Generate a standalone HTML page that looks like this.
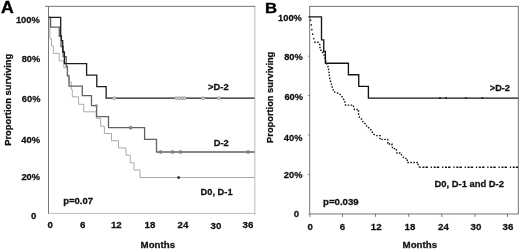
<!DOCTYPE html>
<html>
<head>
<meta charset="utf-8">
<title>Survival curves</title>
<style>
html,body{margin:0;padding:0;background:#fff;}
body{width:520px;height:249px;overflow:hidden;}
svg{display:block;will-change:transform;}
text{font-family:"Liberation Sans",sans-serif;font-weight:bold;fill:#111;}
.t{font-size:9.7px;stroke:#111;stroke-width:0.27px;}
.pl{font-size:15.4px;fill:#000;}
.ax{stroke:#777;stroke-width:1;fill:none;}
.axl{stroke:#bdbdbd;stroke-width:1;fill:none;}
</style>
</head>
<body>
<svg width="520" height="249" viewBox="0 0 520 249">
<rect x="0" y="0" width="520" height="249" fill="#ffffff"/>

<!-- ================= PANEL A ================= -->
<g id="panelA">
  <!-- frame -->
  <path class="axl" d="M254.85 6.2 V215.2" stroke-width="1.2"/>
  <path class="axl" d="M48.5 213.4 H255.2"/>
  <path class="ax" d="M45 6.35 H255.3"/>
  <path class="ax" d="M48.5 6.1 V213.6"/>

  <!-- D0, D-1 light gray -->
  <path fill="none" stroke="#aaaaaa" stroke-width="1" d="M48.6 17.3 H49.9 V38.8 H51.5 V46 H53.3 V53.4 H59.2 V60.8 H63.8 V67.8 H67.4 V75 H69 V82 H71.3 V89.6 H72.3 V96.8 H78.6 V104.3 H83.75 V111.8 H96.25 V118.4 H100.6 V126.3 H104.4 V133.5 H111.5 V140.7 H118.5 V147.9 H126 V155.3 H130.25 V162.8 H134 V170 H140 V177.5 H254.5"/>
  <!-- D-2 dark gray -->
  <path fill="none" stroke="#626262" stroke-width="1.3" d="M48.6 17.3 H50.6 V27.2 H59.3 V36.3 H61 V46.5 H63.2 V56.6 H66.2 V66.3 H67.4 V75.9 H69 V86.15 H82.3 V95.7 H91.5 V105.55 H96.6 V116.7 H108.5 V127.7 H144.6 V139.3 H156.5 V152 H254.5"/>
  <!-- >D-2 black -->
  <path fill="none" stroke="#1c1c1c" stroke-width="1.3" d="M48.6 17.3 H60.7 V36 H61.4 V40.6 H62.7 V52 H64.4 V63.55 H86.6 V75.1 H96.8 V86.6 H106.15 V98.2 H254.5"/>

  <!-- markers -->
  <g fill="#d0d0d0" stroke="#8c8c8c" stroke-width="0.7">
    <circle cx="114.4" cy="98.2" r="1.5"/>
    <circle cx="176.3" cy="98.2" r="1.5"/>
    <circle cx="179.2" cy="98.2" r="1.5"/>
    <circle cx="182" cy="98.2" r="1.5"/>
    <circle cx="184.6" cy="98.2" r="1.5"/>
    <circle cx="203.1" cy="98.2" r="1.5"/>
    <circle cx="218.75" cy="98.2" r="1.5"/>
  </g>
  <g fill="#858585" stroke="#7a7a7a" stroke-width="0.3">
    <rect x="95.1" y="104.3" width="2.5" height="2.5" stroke="none" fill="#8a8a8a"/>
    <circle cx="130.6" cy="127.7" r="1.75"/>
    <circle cx="160.6" cy="152" r="1.75"/>
    <circle cx="172.5" cy="152" r="1.75"/>
    <circle cx="180.5" cy="152" r="1.75"/>
    <circle cx="248" cy="152" r="1.75"/>
  </g>
  <circle cx="178.6" cy="177.5" r="1.5" fill="#3c3c3c"/>

  <!-- text -->
  <text class="pl" transform="translate(0.9 13.2) scale(1.08 1)" style="font-size:16.4px" stroke="#000" stroke-width="0.35">A</text>
  <text class="t" x="15.9" y="23.1" textLength="24" lengthAdjust="spacingAndGlyphs">100%</text>
  <text class="t" x="21.7" y="61.8" textLength="18.5" lengthAdjust="spacingAndGlyphs">80%</text>
  <text class="t" x="21.8" y="101.5" textLength="18.6" lengthAdjust="spacingAndGlyphs">60%</text>
  <text class="t" x="21.2" y="142.8" textLength="18.8" lengthAdjust="spacingAndGlyphs">40%</text>
  <text class="t" x="21.4" y="179.8" textLength="18.6" lengthAdjust="spacingAndGlyphs">20%</text>
  <text class="t" x="31.1" y="218.9">0</text>

  <text class="t" x="50.3" y="228.1" text-anchor="middle">0</text>
  <text class="t" x="82.7" y="228.1" text-anchor="middle">6</text>
  <text class="t" x="116.3" y="228.1" text-anchor="middle">12</text>
  <text class="t" x="149.9" y="228.3" text-anchor="middle">18</text>
  <text class="t" x="183" y="228.1" text-anchor="middle">24</text>
  <text class="t" x="215.9" y="228.6" text-anchor="middle">30</text>
  <text class="t" x="247.9" y="227.8" text-anchor="middle">36</text>
  <text class="t" x="140.6" y="247.7" textLength="34.5" lengthAdjust="spacingAndGlyphs">Months</text>
  <text class="t" x="63.3" y="203.7" textLength="29.7" lengthAdjust="spacingAndGlyphs">p=0.07</text>
  <text class="t" x="208.1" y="89.8" textLength="20.6" lengthAdjust="spacingAndGlyphs">&gt;D-2</text>
  <text class="t" x="213.8" y="145.9" textLength="15" lengthAdjust="spacingAndGlyphs">D-2</text>
  <text class="t" x="200.5" y="194.8" textLength="32.1" lengthAdjust="spacingAndGlyphs">D0, D-1</text>
  <text class="t" transform="translate(10.8 145.8) rotate(-90)" textLength="92" lengthAdjust="spacingAndGlyphs">Proportion surviving</text>
</g>

<!-- ================= PANEL B ================= -->
<g id="panelB">
  <path class="ax" d="M309 6.4 H518.7"/>
  <path class="ax" d="M309.7 6.2 V214"/>
  <path class="ax" d="M308.6 213.95 H518.7"/>
  <path class="ax" d="M518.35 6.2 V214.2"/>
  <!-- ticks -->
  <path class="ax" d="M308.1 16.9 H309.7 M308.1 56.2 H309.7 M308.1 95.5 H309.7 M308.1 135 H309.7 M308.1 174.5 H309.7"/>
  <path class="ax" d="M310 213.7 V216.9 M342.5 213.7 V216.9 M375.5 213.7 V216.9 M408.75 213.7 V216.9 M441.75 213.7 V216.9 M475 213.7 V216.9 M507.5 213.7 V216.9"/>

  <!-- dashed curve -->
  <path fill="none" stroke="#111" stroke-width="1.4" stroke-dasharray="1.5 3.2" stroke-dashoffset="-2" d="M310.2 17.5 L310.6 20.5 L311.25 25.5 L311.9 30 L312.75 35 L313.75 38.1 L314.2 42.2"/>
  <path fill="none" stroke="#111" stroke-width="1.4" stroke-dasharray="1.5 1.5" d="M314.2 42.2 L318 42.2 L320 45 L320 49 L321.9 51.5 L323.75 54 L325 58.5 L326.5 63.5 L328 66.5 L328.5 68.5 L329 72.5 L329.5 76.5 L330.3 80.5 L331.25 83.5 L332.5 87.9 L333.75 91.75 L336.25 92.75 L339.4 93.6 L341.9 96.5 L343.75 99.25 L345 102.4 L345.6 105.1 L353.1 105.1 L354.4 109.5 L358.5 109.5 L358.5 113.6 L359.4 117.4 L361.9 119.5 L363.1 122.4 L366 124.25 L366.9 126.9 L370 128.5 L371.9 131.25 L373.1 134 L376.25 135.6 L380 135.6 L380 139.4 L387.75 139.4 L387.75 144 L391.9 144 L392.6 148.6 L396.25 148.6 L396.9 153 L400.6 153 L401.9 155.6 L404 158.1 L407.25 158.75 L407.25 162.5 L418.1 162.5 L418.1 164.75 L419.4 167.3"/>
  <path fill="none" stroke="#111" stroke-width="1.4" stroke-dasharray="1.3 1.7 2 1.1 2.4 2.8" d="M419.4 167.3 H518"/>
  <!-- solid black -->
  <path fill="none" stroke="#141414" stroke-width="1.35" d="M308.7 16.9 H321.5 V39.8 H323.75 V51.5 H325.4 V63.2 H348.4 V74.7 H358.75 V86.3 H368.4 V98.1 H518"/>

  <g fill="#222"><circle cx="440" cy="98.1" r="1.05"/><circle cx="446" cy="98.1" r="1.05"/><circle cx="466" cy="98.1" r="1"/><circle cx="482.5" cy="98.1" r="1"/></g>
  <text class="pl" transform="translate(264.9 13.2) scale(1.08 1)" style="font-size:15.5px" stroke="#000" stroke-width="0.35">B</text>
  <text class="t" x="278.1" y="20.6" textLength="23.8" lengthAdjust="spacingAndGlyphs">100%</text>
  <text class="t" x="284.2" y="59.8" textLength="18.5" lengthAdjust="spacingAndGlyphs">80%</text>
  <text class="t" x="284.4" y="100" textLength="18.5" lengthAdjust="spacingAndGlyphs">60%</text>
  <text class="t" x="283.8" y="140.6" textLength="18.6" lengthAdjust="spacingAndGlyphs">40%</text>
  <text class="t" x="283.8" y="177.5" textLength="18.6" lengthAdjust="spacingAndGlyphs">20%</text>
  <text class="t" x="293.8" y="217.3">0</text>

  <text class="t" x="310.1" y="230" text-anchor="middle">0</text>
  <text class="t" x="342.5" y="230" text-anchor="middle">6</text>
  <text class="t" x="376.2" y="229.7" text-anchor="middle">12</text>
  <text class="t" x="410" y="229.9" text-anchor="middle">18</text>
  <text class="t" x="443.5" y="229.9" text-anchor="middle">24</text>
  <text class="t" x="476" y="229.9" text-anchor="middle">30</text>
  <text class="t" x="508" y="229.5" text-anchor="middle">36</text>
  <text class="t" x="402.6" y="247.6" textLength="34.5" lengthAdjust="spacingAndGlyphs">Months</text>
  <text class="t" x="323" y="205" textLength="35.7" lengthAdjust="spacingAndGlyphs">p=0.039</text>
  <text class="t" x="489.8" y="91" textLength="20.2" lengthAdjust="spacingAndGlyphs">&gt;D-2</text>
  <text class="t" x="434.5" y="186.9" textLength="69.4" lengthAdjust="spacingAndGlyphs">D0, D-1 and D-2</text>
  <text class="t" transform="translate(272.9 142.9) rotate(-90)" textLength="91.2" lengthAdjust="spacingAndGlyphs">Proportion surviving</text>
</g>
</svg>
</body>
</html>
